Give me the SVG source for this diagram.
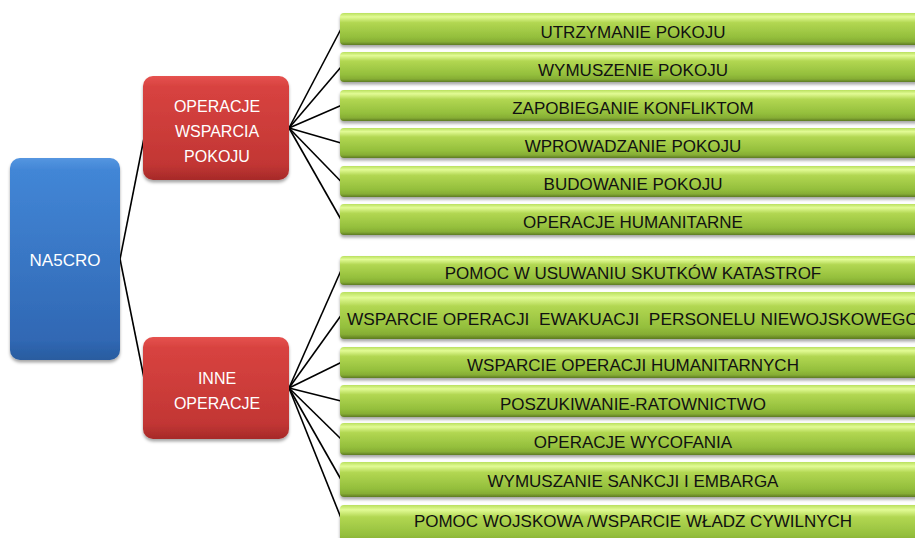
<svg xmlns="http://www.w3.org/2000/svg" width="915" height="538" viewBox="0 0 915 538">
<defs>
<linearGradient id="gGreen" x1="0" y1="0" x2="0" y2="1">
<stop offset="0" stop-color="#b9e05e"/>
<stop offset="0.12" stop-color="#e2fb95"/>
<stop offset="0.3" stop-color="#b2d752"/>
<stop offset="0.75" stop-color="#94bf3c"/>
<stop offset="0.9" stop-color="#86ad34"/>
<stop offset="1" stop-color="#5d7a22"/>
</linearGradient>
<linearGradient id="gRed" x1="0" y1="0" x2="0" y2="1">
<stop offset="0" stop-color="#e6524f"/>
<stop offset="0.1" stop-color="#d84340"/>
<stop offset="0.85" stop-color="#c23634"/>
<stop offset="1" stop-color="#a62a28"/>
</linearGradient>
<linearGradient id="gBlue" x1="0" y1="0" x2="0" y2="1">
<stop offset="0" stop-color="#5596e0"/>
<stop offset="0.06" stop-color="#4286d6"/>
<stop offset="0.9" stop-color="#3068b4"/>
<stop offset="1" stop-color="#295c9f"/>
</linearGradient>
<filter id="sh" x="-10%" y="-20%" width="120%" height="160%">
<feDropShadow dx="0" dy="2.5" stdDeviation="1.8" flood-color="#000" flood-opacity="0.35"/>
</filter>
</defs>
<style>
.g{fill:url(#gGreen);filter:url(#sh)}
.r{fill:url(#gRed);filter:url(#sh)}
.b{fill:url(#gBlue);filter:url(#sh)}
.tg{font-family:"Liberation Sans",Arial,sans-serif;font-size:17px;fill:#111;text-anchor:middle}
.tw{font-family:"Liberation Sans",Arial,sans-serif;font-size:16px;fill:#fff;text-anchor:middle}
.c{stroke:#000;stroke-width:1.6;fill:none}
</style>
<rect width="915" height="538" fill="#fff"/>
<g id="connectors">
<line class="c" x1="120" y1="259" x2="146" y2="128"/>
<line class="c" x1="120" y1="259" x2="146" y2="388"/>
<line class="c" x1="289" y1="128" x2="341" y2="29"/>
<line class="c" x1="289" y1="128" x2="341" y2="67"/>
<line class="c" x1="289" y1="128" x2="341" y2="105.5"/>
<line class="c" x1="289" y1="128" x2="341" y2="143"/>
<line class="c" x1="289" y1="128" x2="341" y2="181.5"/>
<line class="c" x1="289" y1="128" x2="341" y2="219.5"/>
<line class="c" x1="289" y1="388" x2="341" y2="270.5"/>
<line class="c" x1="289" y1="388" x2="341" y2="315.5"/>
<line class="c" x1="289" y1="388" x2="341" y2="362.5"/>
<line class="c" x1="289" y1="388" x2="341" y2="401"/>
<line class="c" x1="289" y1="388" x2="341" y2="439"/>
<line class="c" x1="289" y1="388" x2="341" y2="479.5"/>
<line class="c" x1="289" y1="388" x2="341" y2="518"/>
</g>
<g id="na5cro"><rect class="b" x="10" y="158" width="110" height="202" rx="10"/><text class="tw" x="65" y="266" style="font-size:17px">NA5CRO</text></g>
<g id="opws"><rect class="r" x="143" y="76" width="146" height="104" rx="10"/><text class="tw" x="217" y="112">OPERACJE</text><text class="tw" x="217" y="137">WSPARCIA</text><text class="tw" x="217" y="162">POKOJU</text></g>
<g id="inne"><rect class="r" x="143" y="337" width="146" height="102" rx="10"/><text class="tw" x="217" y="384">INNE</text><text class="tw" x="217" y="409">OPERACJE</text></g>
<g id="t1"><rect class="g" x="340" y="13" width="590" height="32" rx="4"/><text class="tg" x="633" y="37.5">UTRZYMANIE POKOJU</text></g>
<g id="t2"><rect class="g" x="340" y="52" width="590" height="30" rx="4"/><text class="tg" x="633" y="75.5">WYMUSZENIE POKOJU</text></g>
<g id="t3"><rect class="g" x="340" y="90" width="590" height="31" rx="4"/><text class="tg" x="633" y="114">ZAPOBIEGANIE KONFLIKTOM</text></g>
<g id="t4"><rect class="g" x="340" y="128" width="590" height="30" rx="4"/><text class="tg" x="633" y="151.5">WPROWADZANIE POKOJU</text></g>
<g id="t5"><rect class="g" x="340" y="166" width="590" height="31" rx="4"/><text class="tg" x="633" y="190">BUDOWANIE POKOJU</text></g>
<g id="t6"><rect class="g" x="340" y="204" width="590" height="31" rx="4"/><text class="tg" x="633" y="228">OPERACJE HUMANITARNE</text></g>
<g id="b1"><rect class="g" x="340" y="256" width="590" height="29" rx="4"/><text class="tg" x="633" y="279">POMOC W USUWANIU SKUTKÓW KATASTROF</text></g>
<g id="b2"><rect class="g" x="340" y="292" width="590" height="47" rx="4"/><text class="tg" x="633" y="325" xml:space="preserve" textLength="572" lengthAdjust="spacingAndGlyphs">WSPARCIE OPERACJI  EWAKUACJI  PERSONELU NIEWOJSKOWEGO</text></g>
<g id="b3"><rect class="g" x="340" y="347" width="590" height="31" rx="4"/><text class="tg" x="633" y="371">WSPARCIE OPERACJI HUMANITARNYCH</text></g>
<g id="b4"><rect class="g" x="340" y="385" width="590" height="32" rx="4"/><text class="tg" x="633" y="409.5">POSZUKIWANIE-RATOWNICTWO</text></g>
<g id="b5"><rect class="g" x="340" y="423" width="590" height="32" rx="4"/><text class="tg" x="633" y="447.5">OPERACJE WYCOFANIA</text></g>
<g id="b6"><rect class="g" x="340" y="462" width="590" height="35" rx="4"/><text class="tg" x="633" y="487">WYMUSZANIE SANKCJI I EMBARGA</text></g>
<g id="b7"><rect class="g" x="340" y="505" width="590" height="40" rx="4"/><text class="tg" x="633" y="527">POMOC WOJSKOWA /WSPARCIE WŁADZ CYWILNYCH</text></g>
</svg>
